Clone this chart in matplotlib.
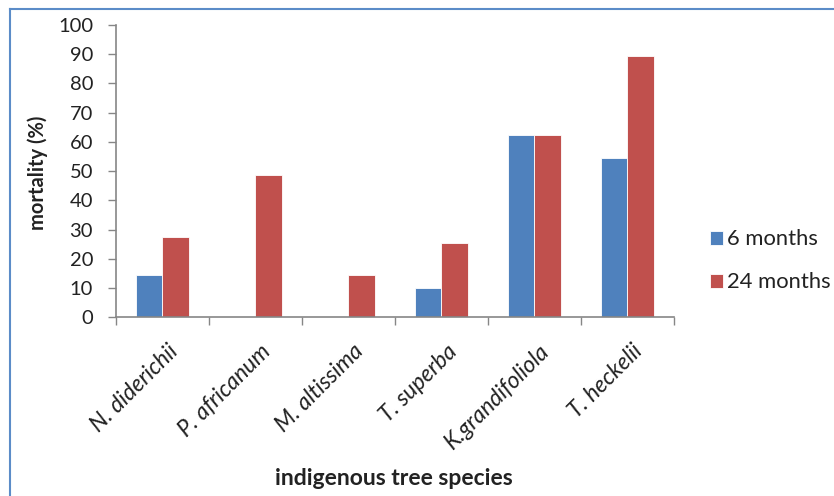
"""Seedling mortality of indigenous tree species after 6 and 24 months"""

import numpy as np
import matplotlib.pyplot as plt
from matplotlib.lines import Line2D

species = [
    "N. diderichii",
    "P. africanum",
    "M. altissima",
    "T. superba",
    "K.grandifoliola",
    "T. heckelii",
]
mortality_6m = [14.3, 0, 0, 10.0, 62.5, 54.5]
mortality_24m = [27.5, 48.8, 14.3, 25.5, 62.5, 89.3]
series_labels = ["6 months", "24 months"]
y_ticks = list(range(0, 101, 10))

BLUE = "#4F81BD"
RED = "#C0504D"
AXIS_GRAY = "#868686"
TEXT = "#222222"

plt.rcParams["font.family"] = ["Lato", "DejaVu Sans"]

fig = plt.figure(figsize=(8.34, 4.96), dpi=100)
ax = fig.add_axes([0.139, 0.3603, 0.669, 0.5893])

# bars: gap width 150% -> each bar is 1/3.5 of a category
x = np.arange(len(species))
bar_w = 1 / 3.5
ax.bar(x - bar_w / 2, mortality_6m, width=bar_w, color=BLUE,
       edgecolor="white", linewidth=0.6, label=series_labels[0])
ax.bar(x + bar_w / 2, mortality_24m, width=bar_w, color=RED,
       edgecolor="white", linewidth=0.6, label=series_labels[1])

# axes
ax.set_xlim(-0.5, len(species) - 0.5)
ax.set_ylim(0, 100)
ax.set_yticks(y_ticks)
ax.tick_params(axis="y", direction="out", length=5.5, width=1,
               color=AXIS_GRAY, labelsize=14.5, labelcolor=TEXT, pad=11)
ax.set_xticks(np.arange(len(species) + 1) - 0.5)
ax.set_xticklabels([])
ax.tick_params(axis="x", direction="out", length=6, width=1, color=AXIS_GRAY)
for side in ["top", "right"]:
    ax.spines[side].set_visible(False)
for side in ["left", "bottom"]:
    ax.spines[side].set_color(AXIS_GRAY)
    ax.spines[side].set_linewidth(1.2)

# category labels, italic and rotated
for xi, name in zip(x, species):
    ax.text(xi + 0.05, -8, name, rotation=45, ha="right", va="top",
            rotation_mode="anchor", fontsize=16.5, style="italic",
            color=TEXT, transform=ax.transData)

fig.text(0.045, 0.652, "mortality (%)", rotation=90, ha="center",
         va="center", fontsize=14.5, fontweight="bold", color=TEXT)
fig.text(0.472, 0.036, "indigenous tree species", ha="center", va="center",
         fontsize=16.5, fontweight="bold", color=TEXT)

fig.legend(loc="center left", bbox_to_anchor=(0.851, 0.474), frameon=False,
           fontsize=15.8, labelspacing=1.05, handlelength=0.6,
           handleheight=0.6, handletextpad=0.2, borderpad=0,
           borderaxespad=0, labelcolor=TEXT)

# chart frame
frame_color = "#5B8CC8"
fig.add_artist(Line2D([0.012, 0.012], [0.0, 0.982], color=frame_color,
                      linewidth=1.5, transform=fig.transFigure))
fig.add_artist(Line2D([0.012, 1.0], [0.982, 0.982], color=frame_color,
                      linewidth=1.5, transform=fig.transFigure))

plt.savefig("out.png", dpi=100)
